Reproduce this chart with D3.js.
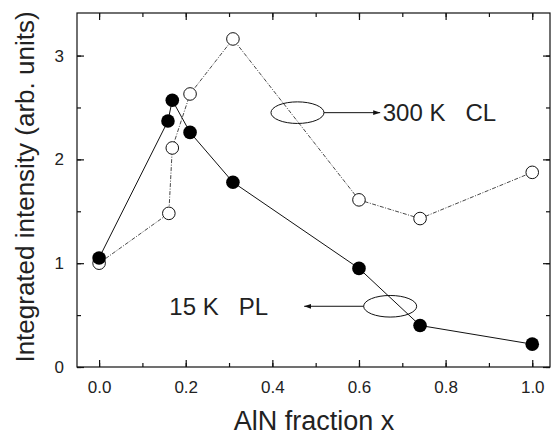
<!DOCTYPE html>
<html>
<head>
<meta charset="utf-8">
<script src="https://cdn.jsdelivr.net/npm/d3@7"></script>
<style>
  body { margin: 0; background: #fff; }
  text { font-family: "Liberation Sans", Arial, Helvetica, sans-serif; fill: #222; }
</style>
</head>
<body>
<script>
var width = 551,
    height = 438;

// AlN fraction and intensities
var plX = [0.0, 0.159, 0.169, 0.21, 0.309, 0.60, 0.741, 1.0];
var plY = [1.05, 2.37, 2.57, 2.26, 1.78, 0.95, 0.40, 0.22];
var clX = [0.0, 0.161, 0.169, 0.21, 0.309, 0.60, 0.741, 1.0];
var clY = [1.00, 1.48, 2.11, 2.63, 3.16, 1.61, 1.43, 1.875];

var xTicks = [0, 0.2, 0.4, 0.6, 0.8, 1.0];
var yTicks = [0, 1, 2, 3];

var margin = {top: 13, right: 1, bottom: 71, left: 77};

var svg = d3.select('body').append('svg')
    .attr('width', width)
    .attr('height', height);

var x = d3.scaleLinear()
    .domain([-0.051, 1.041])
    .range([margin.left, width - margin.right]);

var y = d3.scaleLinear()
    .domain([0, 3.41])
    .range([height - margin.bottom, margin.top]);

var defs = svg.append('defs');
defs.append('marker')
    .attr('id', 'arrow')
    .attr('viewBox', '0 0 10 10')
    .attr('refX', 10).attr('refY', 5)
    .attr('markerWidth', 7).attr('markerHeight', 7)
    .attr('markerUnits', 'userSpaceOnUse')
    .attr('orient', 'auto')
  .append('path')
    .attr('d', 'M0,1.5L10,5L0,8.5Z')
    .attr('fill', '#111');

// frame
svg.append('rect')
    .attr('x', x.range()[0]).attr('y', y.range()[1])
    .attr('width', x.range()[1] - x.range()[0])
    .attr('height', y.range()[0] - y.range()[1])
    .attr('fill', 'none')
    .attr('stroke', '#111')
    .attr('stroke-width', 1.2);

// axes with inward ticks
var xMinor = d3.range(0, 1.05, 0.1);
var yMinor = d3.range(0, 3.45, 0.5);

function addX(pos, dir, labels) {
  var g = svg.append('g').attr('transform', 'translate(0,' + pos + ')');
  g.append('g')
      .call(d3.axisBottom(x).tickValues(xMinor).tickSize(-4 * dir).tickFormat(''))
      .call(function(s) { s.select('.domain').remove(); });
  var major = g.append('g')
      .call(d3.axisBottom(x).tickValues(xTicks).tickSize(-7 * dir).tickPadding(14)
        .tickFormat(labels ? d3.format('.1f') : ''));
  major.select('.domain').remove();
  g.selectAll('line').attr('stroke', '#111').attr('stroke-width', 1.2);
  major.selectAll('text')
      .attr('font-size', 17)
      .attr('font-family', '"Liberation Sans", Arial, sans-serif')
      .attr('fill', '#222');
}

function addY(pos, dir, labels) {
  var g = svg.append('g').attr('transform', 'translate(' + pos + ',0)');
  g.append('g')
      .call(d3.axisLeft(y).tickValues(yMinor).tickSize(-4 * dir).tickFormat(''))
      .call(function(s) { s.select('.domain').remove(); });
  var major = g.append('g')
      .call(d3.axisLeft(y).tickValues(yTicks).tickSize(-7 * dir).tickPadding(13)
        .tickFormat(labels ? d3.format('d') : ''));
  major.select('.domain').remove();
  g.selectAll('line').attr('stroke', '#111').attr('stroke-width', 1.2);
  major.selectAll('text')
      .attr('font-size', 17)
      .attr('font-family', '"Liberation Sans", Arial, sans-serif')
      .attr('fill', '#222');
}

addX(y.range()[0], 1, true);
addX(y.range()[1], -1, false);
addY(x.range()[0], 1, true);
addY(x.range()[1], -1, false);

// axis titles
svg.append('text')
    .attr('x', 314).attr('y', 430)
    .attr('text-anchor', 'middle')
    .attr('font-size', 27)
    .text('AlN fraction x');

svg.append('text')
    .attr('transform', 'translate(34,187) rotate(-90)')
    .attr('text-anchor', 'middle')
    .attr('font-size', 26)
    .text('Integrated intensity (arb. units)');

var line = d3.line()
    .x(function(d) { return x(d[0]); })
    .y(function(d) { return y(d[1]); });

var clData = d3.zip(clX, clY);
var plData = d3.zip(plX, plY);

svg.append('path')
    .datum(clData)
    .attr('d', line)
    .attr('fill', 'none')
    .attr('stroke', '#333')
    .attr('stroke-width', 0.9)
    .attr('stroke-dasharray', '4,1.5,1,1.5');

svg.append('path')
    .datum(plData)
    .attr('d', line)
    .attr('fill', 'none')
    .attr('stroke', '#111')
    .attr('stroke-width', 1);

svg.append('g').selectAll('circle')
    .data(clData)
    .enter().append('circle')
    .attr('cx', function(d) { return x(d[0]); })
    .attr('cy', function(d) { return y(d[1]); })
    .attr('r', 6.3)
    .attr('fill', '#fff')
    .attr('stroke', '#111')
    .attr('stroke-width', 1);

svg.append('g').selectAll('circle')
    .data(plData)
    .enter().append('circle')
    .attr('cx', function(d) { return x(d[0]); })
    .attr('cy', function(d) { return y(d[1]); })
    .attr('r', 6.8)
    .attr('fill', '#000');

// annotations
var clLabel = {cx: 0.458, cy: 2.45, tip: 0.649, text: '300 K\u00a0\u00a0\u00a0CL', tx: 382.7};
var plLabel = {cx: 0.672, cy: 0.585, tip: 0.4735, text: '15 K\u00a0\u00a0\u00a0PL', tx: 169.3};

[clLabel, plLabel].forEach(function(a, i) {
  var cx = x(a.cx), cy = y(a.cy);
  svg.append('ellipse')
      .attr('cx', cx).attr('cy', cy)
      .attr('rx', 26.5).attr('ry', 10.8)
      .attr('fill', 'none')
      .attr('stroke', '#111')
      .attr('stroke-width', 1);
  var start = i === 0 ? cx + 26.5 : cx - 26.5;
  svg.append('line')
      .attr('x1', start).attr('y1', cy)
      .attr('x2', x(a.tip)).attr('y2', cy)
      .attr('stroke', '#111')
      .attr('stroke-width', 1)
      .attr('marker-end', 'url(#arrow)');
  svg.append('text')
      .attr('x', a.tx).attr('y', cy + 8.5)
      .attr('font-size', 24)
      .text(a.text);
});
</script>
</body>
</html>
